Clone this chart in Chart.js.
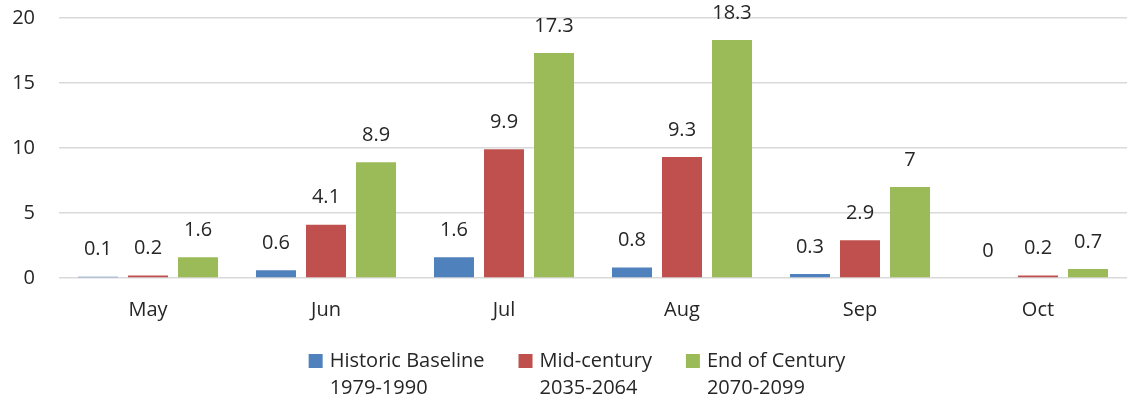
<!DOCTYPE html>
<html>
<head>
<meta charset="utf-8">
<script src="https://cdn.jsdelivr.net/npm/chart.js@4/dist/chart.umd.min.js"></script>
<style>
  html, body { margin: 0; padding: 0; background: #fff; }
  #wrap { width: 1127px; height: 406px; }
</style>
</head>
<body>
<div id="wrap"><canvas id="myChart" width="1127" height="406"></canvas></div>
<script>
const months = ['May', 'Jun', 'Jul', 'Aug', 'Sep', 'Oct'];
const historic = [0.1, 0.6, 1.6, 0.8, 0.3, 0];
const midCentury = [0.2, 4.1, 9.9, 9.3, 2.9, 0.2];
const endCentury = [1.6, 8.9, 17.3, 18.3, 7, 0.7];
const seriesNames = [
  ['Historic Baseline', '1979-1990'],
  ['Mid-century', '2035-2064'],
  ['End of Century', '2070-2099'],
];
const yTicks = [0, 5, 10, 15, 20];

const colors = ['#4F81BD', '#C0504D', '#9BBB59'];
const fontFamily = '"Open Sans", sans-serif';
const fontSize = 20;
const textColor = '#262626';

// draws the value above each bar
const valueLabels = {
  id: 'valueLabels',
  afterDatasetsDraw(chart) {
    const ctx = chart.ctx;
    ctx.save();
    ctx.font = fontSize + 'px ' + fontFamily;
    ctx.fillStyle = textColor;
    ctx.textAlign = 'center';
    ctx.textBaseline = 'middle';
    chart.data.datasets.forEach((ds, i) => {
      chart.getDatasetMeta(i).data.forEach((bar, j) => {
        ctx.fillText(String(ds.data[j]), bar.x, bar.y - 27);
      });
    });
    ctx.restore();
  },
};

// two-line legend under the chart (built-in legend clips the 2nd line)
const twoLineLegend = {
  id: 'twoLineLegend',
  afterDraw(chart) {
    const ctx = chart.ctx;
    ctx.save();
    ctx.font = fontSize + 'px ' + fontFamily;
    ctx.textBaseline = 'middle';
    ctx.textAlign = 'left';
    const box = 14;
    const gap = 7;
    const spacing = 34;
    const widths = seriesNames.map((lines) =>
      box + gap + Math.max(...lines.map((t) => ctx.measureText(t).width)));
    const total = widths.reduce((a, b) => a + b, 0) + spacing * (widths.length - 1);
    let x = 577 - total / 2;
    const y = 361;
    seriesNames.forEach((lines, i) => {
      ctx.fillStyle = colors[i];
      ctx.fillRect(x, y - box / 2, box, box);
      ctx.fillStyle = textColor;
      lines.forEach((t, k) => ctx.fillText(t, x + box + gap, y + k * 27));
      x += widths[i] + spacing;
    });
    ctx.restore();
  },
};

const ctx = document.getElementById('myChart').getContext('2d');
const myChart = new Chart(ctx, {
  type: 'bar',
  data: {
    labels: months,
    datasets: [historic, midCentury, endCentury].map((vals, i) => ({
      label: seriesNames[i].join(' '),
      data: vals,
      backgroundColor: colors[i],
      borderWidth: 0,
      categoryPercentage: 0.843,
      barPercentage: 0.8,
    })),
  },
  options: {
    responsive: false,
    animation: false,
    layout: {
      autoPadding: false,
      padding: { top: 18, left: 0, right: 0, bottom: 64 },
    },
    plugins: {
      legend: { display: false },
      tooltip: { enabled: false },
    },
    scales: {
      x: {
        grid: { display: false, drawTicks: false },
        border: { display: false },
        ticks: {
          font: { family: fontFamily, size: fontSize },
          color: textColor,
          padding: 20,
        },
      },
      y: {
        min: 0,
        max: 20,
        afterBuildTicks: (axis) => {
          axis.ticks = yTicks.map((v) => ({ value: v }));
        },
        afterFit: (axis) => {
          axis.width = 59;
          axis.paddingTop = 0;
          axis.paddingBottom = 0;
        },
        grid: { color: '#d9d9d9', lineWidth: 1.5, drawTicks: false },
        border: { display: false },
        ticks: {
          font: { family: fontFamily, size: fontSize },
          color: textColor,
          padding: 24,
        },
      },
    },
  },
  plugins: [valueLabels, twoLineLegend],
});
</script>
</body>
</html>
